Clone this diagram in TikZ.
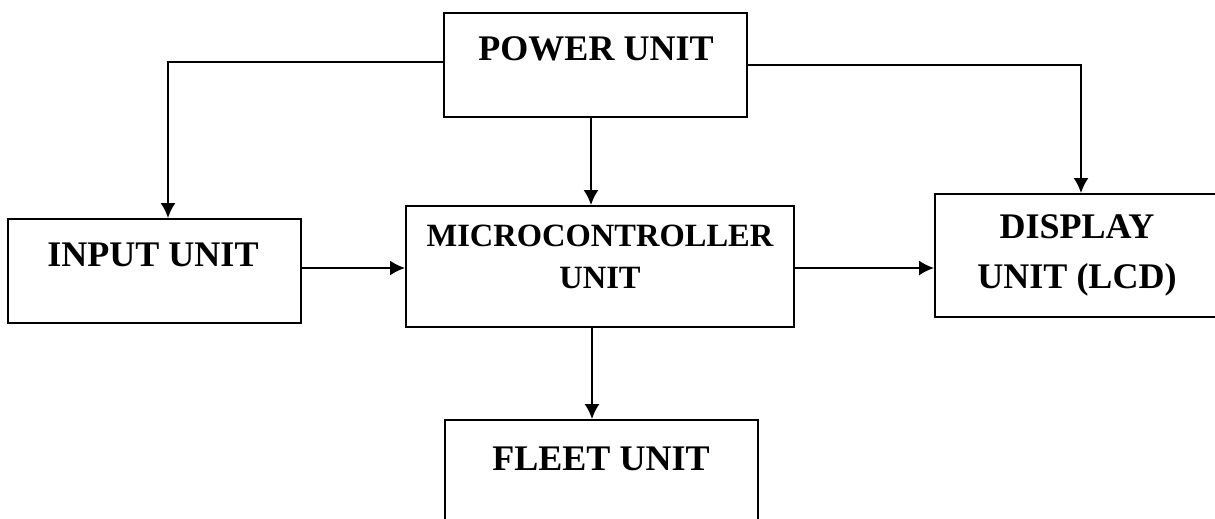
\documentclass[tikz,border=0pt]{standalone}
\usepackage{fontspec}
\setmainfont{Liberation Serif}
\usetikzlibrary{arrows.meta,positioning}

\begin{document}
\begin{tikzpicture}[x=0.02cm, y=-0.02cm,
box/.style={draw=black, line width=1.1pt, inner sep=0pt},
lbl/.style={font=\fontsize{20.5}{28.5}\selectfont\bfseries, align=center, inner sep=0pt},
slbl/.style={font=\fontsize{18.5}{24}\selectfont\bfseries, align=center, inner sep=0pt},
arrow/.style={-{Latex[length=3mm, width=3mm]}, line width=1.1pt}
]
\useasboundingbox (0,0) rectangle (1215,518);
\node[box, minimum width=6.06cm, minimum height=2.08cm] (power) at (595.5,65) {};
\node[box, minimum width=5.86cm, minimum height=2.08cm] (input) at (154.5,271) {};
\node[box, minimum width=7.76cm, minimum height=2.42cm] (micro) at (600,266.5) {};
\node[box, minimum width=5.68cm, minimum height=2.46cm] (disp) at (1077,255.5) {};
\node[box, minimum width=6.26cm, minimum height=2.0cm] (fleet) at (601.5,470) {};

\node[lbl, anchor=base] (power-lbl) at (596,60) {POWER UNIT};
\node[lbl, anchor=base] (input-lbl) at (153,266) {INPUT UNIT};
\node[slbl] (micro-lbl) at (600,256.5) {MICROCONTROLLER\\UNIT};
\node[lbl] (disp-lbl) at (1077,255) {DISPLAY\\UNIT (LCD)};
\node[lbl, anchor=base] (fleet-lbl) at (601,470) {FLEET UNIT};

\draw[arrow] ([yshift=0.06cm]power.west) -| ([xshift=0.27cm]input.north);
\draw[arrow] (power.east) -| ([xshift=0.08cm]disp.north);
\draw[arrow] ([xshift=-0.09cm]power.south) -- ([xshift=-0.09cm]power.south |- micro.north);
\draw[arrow] ([yshift=0.06cm]input.east) -- ([yshift=0.06cm]input.east -| micro.west);
\draw[arrow] ([yshift=-0.03cm]micro.east) -- ([yshift=-0.03cm]micro.east -| disp.west);
\draw[arrow] ([xshift=-0.16cm]micro.south) -- ([xshift=-0.16cm]micro.south |- fleet.north);
\end{tikzpicture}
\end{document}
